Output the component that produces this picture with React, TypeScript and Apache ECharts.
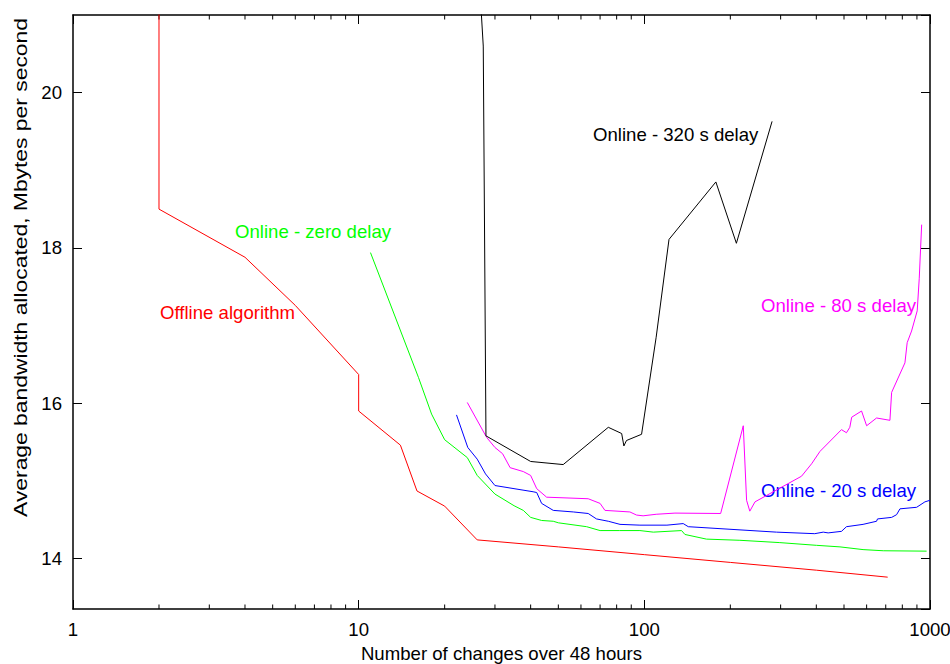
import React, { useEffect, useRef } from "react";
import * as echarts from "echarts";

const FONT = "'Liberation Sans', Arial, Helvetica, sans-serif";
const FS = 18.6;

// x: number of changes over 48 hours, y: Mbytes per second
const offline: [number, number][] = [
  [2, 21.6], [2, 18.5], [4, 17.88], [6, 17.26], [10, 16.37], [10, 15.9], [14, 15.46],
  [16, 14.87], [20, 14.675], [26, 14.24], [50, 14.15], [100, 14.05], [200, 13.95],
  [400, 13.85], [711, 13.76],
];

const zeroDelay: [number, number][] = [
  [11, 17.94], [16.2, 16.33], [18, 15.86], [20, 15.53], [24, 15.3], [26, 15.07],
  [30, 14.83], [35, 14.68], [37.7, 14.62], [40, 14.53], [43.7, 14.49], [48, 14.48],
  [50, 14.46], [62.8, 14.41], [70, 14.36], [82, 14.36], [96.5, 14.36], [107.5, 14.34],
  [135, 14.36], [138.7, 14.31], [165, 14.25], [216, 14.235], [298, 14.205], [401, 14.17],
  [484, 14.15], [583, 14.115], [686, 14.1], [973, 14.095],
];

const delay20: [number, number][] = [
  [22, 15.85], [24.1, 15.43], [26, 15.28], [27.8, 15.09], [30, 14.94], [40.8, 14.86],
  [42, 14.85], [43.7, 14.71], [48, 14.62], [56.4, 14.6], [63.6, 14.58], [68, 14.51],
  [74.8, 14.48], [82.2, 14.44], [96.5, 14.43], [120, 14.43], [136.8, 14.45], [142.5, 14.41],
  [290, 14.34], [395, 14.32], [423, 14.34], [440, 14.33], [490, 14.35], [510, 14.41],
  [583, 14.44], [650, 14.48], [655, 14.51], [734, 14.53], [764, 14.565], [785, 14.64],
  [898, 14.66], [960, 14.73], [1000, 14.75],
];

const delay80: [number, number][] = [
  [24, 16.01], [28.05, 15.56], [30, 15.43], [31.9, 15.35], [33.9, 15.17], [37.7, 15.12],
  [40, 15.07], [42, 14.9], [45.5, 14.79], [63.6, 14.77], [70, 14.71], [72.8, 14.62],
  [89, 14.6], [93.9, 14.56], [99, 14.55], [110, 14.57], [128, 14.585], [185, 14.58],
  [222, 15.71], [228, 14.75], [234, 14.61], [244, 14.73], [355, 15.06], [385, 15.22],
  [412, 15.38], [490, 15.66], [510, 15.62], [524, 15.69], [532, 15.82], [576, 15.9],
  [600, 15.71], [650, 15.81], [724, 15.78], [734, 16.14], [817, 16.52], [832, 16.78],
  [862, 16.93], [902, 17.19], [917, 17.61], [935, 18.3],
];

const delay320: [number, number][] = [
  [26.5, 21.4], [27.3, 20.6], [27.9, 15.58], [40, 15.25], [52, 15.21], [74.8, 15.69],
  [83.3, 15.61], [84.8, 15.45], [86.6, 15.52], [97.8, 15.6], [110, 16.85], [122, 18.11],
  [178, 18.85], [210, 18.06], [280, 19.63],
];

const minorTicks: number[] = [2, 3, 4, 5, 6, 7, 8, 9, 20, 30, 40, 50, 60, 70, 80, 90, 200, 300, 400, 500, 600, 700, 800, 900];

const labels = [
  { text: "Online - 320 s delay", color: "#000000", x: 593, y: 134 },
  { text: "Online - zero delay", color: "#00ff00", x: 235, y: 231 },
  { text: "Offline algorithm", color: "#ff0000", x: 160, y: 312 },
  { text: "Online - 80 s delay", color: "#ff00ff", x: 761, y: 305 },
  { text: "Online - 20 s delay", color: "#0000ff", x: 761, y: 490 },
];

const xTitle = "Number of changes over 48 hours";
const yTitle = "Average bandwidth allocated, Mbytes per second";

export default function App() {
  const ref = useRef<HTMLDivElement>(null);
  useEffect(() => {
    if (!ref.current) return;
    const chart = echarts.init(ref.current, null, { renderer: "svg" });
    const axisLine = { show: true, onZero: false, lineStyle: { color: "#000", width: 1.5 } };
    const tick = { show: true, inside: true, length: 9, lineStyle: { color: "#000", width: 1 } };
    const lineSeries = (name: string, data: [number, number][], color: string) => ({
      type: "line",
      name,
      data,
      showSymbol: false,
      symbol: "none",
      clip: true,
      lineStyle: { color, width: 1 },
      itemStyle: { color },
    });
    const option: any = {
      animation: false,
      backgroundColor: "#ffffff",
      grid: { left: 73, right: 20, top: 15, bottom: 55, containLabel: false, outerBoundsMode: "none" },
      xAxis: [
        {
          type: "log",
          logBase: 10,
          min: 1,
          max: 1000,
          position: "bottom",
          axisLine,
          axisTick: tick,
          minorTick: { show: false },
          splitLine: { show: false },
          axisLabel: {
            color: "#000",
            fontSize: FS,
            fontFamily: FONT,
            margin: 11,
            formatter: (v: number) => String(Math.round(v)),
          },
          name: xTitle,
          nameLocation: "middle",
          nameGap: 30,
          nameTextStyle: { color: "#000", fontSize: FS, fontFamily: FONT },
        },
        {
          type: "log",
          logBase: 10,
          min: 1,
          max: 1000,
          position: "top",
          axisLine,
          axisTick: tick,
          splitLine: { show: false },
          axisLabel: { show: false },
        },
      ],
      yAxis: [
        {
          type: "value",
          min: 13.35,
          max: 21,
          splitNumber: 4,
          position: "left",
          axisLine,
          axisTick: tick,
          splitLine: { show: false },
          axisLabel: {
            color: "#000",
            fontSize: FS,
            fontFamily: FONT,
            margin: 11,
            showMinLabel: false,
            showMaxLabel: false,
          },
        },
        {
          type: "value",
          min: 13.35,
          max: 21,
          splitNumber: 4,
          position: "right",
          axisLine,
          axisTick: tick,
          splitLine: { show: false },
          axisLabel: { show: false },
        },
      ],
      series: [
        lineSeries("Offline algorithm", offline, "#ff0000"),
        lineSeries("Online - zero delay", zeroDelay, "#00ff00"),
        lineSeries("Online - 20 s delay", delay20, "#0000ff"),
        lineSeries("Online - 80 s delay", delay80, "#ff00ff"),
        lineSeries("Online - 320 s delay", delay320, "#000000"),
        {
          type: "custom",
          silent: true,
          clip: false,
          data: minorTicks.map((v) => [v, 14]),
          renderItem: (params: any, api: any) => {
            const x = api.coord([api.value(0), api.value(1)])[0];
            const cs = params.coordSys;
            const top = cs.y;
            const bottom = cs.y + cs.height;
            return {
              type: "group",
              children: [
                { type: "line", shape: { x1: x, y1: bottom, x2: x, y2: bottom - 4.5 }, style: { stroke: "#000", lineWidth: 1 } },
                { type: "line", shape: { x1: x, y1: top, x2: x, y2: top + 4.5 }, style: { stroke: "#000", lineWidth: 1 } },
              ],
            };
          },
        },
      ],
      graphic: [
        ...labels.map((l) => ({
          type: "text",
          x: l.x,
          y: l.y,
          style: {
            text: l.text,
            fill: l.color,
            fontSize: FS,
            fontFamily: FONT,
            textAlign: "left",
            textVerticalAlign: "middle",
            align: "left",
            verticalAlign: "middle",
          },
        })),
        {
          type: "text",
          x: 20,
          y: 267.5,
          rotation: Math.PI / 2,
          scaleX: 1.23,
          style: {
            text: yTitle,
            fill: "#000",
            fontSize: FS,
            fontFamily: FONT,
            textAlign: "center",
            textVerticalAlign: "middle",
            align: "center",
            verticalAlign: "middle",
          },
        },
      ],
    };
    chart.setOption(option);
    return () => chart.dispose();
  }, []);
  return <div ref={ref} style={{ position: "absolute", left: 0, top: 0, width: 950, height: 664, background: "#fff" }} />;
}
